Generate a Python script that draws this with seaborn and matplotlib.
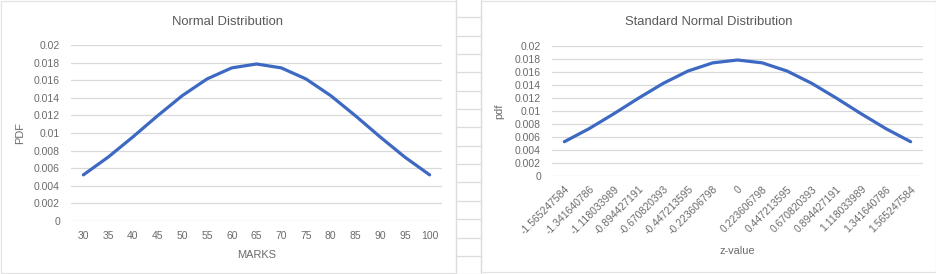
import numpy as np
import pandas as pd
import matplotlib
matplotlib.use("Agg")
import matplotlib.pyplot as plt
import seaborn as sns
from matplotlib.lines import Line2D
from matplotlib.patches import Rectangle

# ---- data ----
marks = [30, 35, 40, 45, 50, 55, 60, 65, 70, 75, 80, 85, 90, 95, 100]
pdf_marks = [0.005241, 0.007254, 0.009550, 0.011959, 0.014246, 0.016143, 0.017401,
             0.017841, 0.017401, 0.016143, 0.014246, 0.011959, 0.009550, 0.007254, 0.005241]
z_labels = ["-1.565247584", "-1.341640786", "-1.118033989", "-0.894427191",
            "-0.670820393", "-0.447213595", "-0.223606798", "0", "0.223606798",
            "0.447213595", "0.670820393", "0.894427191", "1.118033989",
            "1.341640786", "1.565247584"]
pdf_z = [0.005241, 0.007254, 0.009550, 0.011959, 0.014246, 0.016143, 0.017401,
         0.017841, 0.017401, 0.016143, 0.014246, 0.011959, 0.009550, 0.007254, 0.005241]
y_ticks = [0, 0.002, 0.004, 0.006, 0.008, 0.01, 0.012, 0.014, 0.016, 0.018, 0.02]
y_tick_labels = ["0", "0.002", "0.004", "0.006", "0.008", "0.01", "0.012",
                 "0.014", "0.016", "0.018", "0.02"]
titles = ["Normal Distribution", "Standard Normal Distribution"]
xlabels = ["MARKS", "z-value"]
ylabels = ["PDF", "pdf"]

sns.set_theme(style="white")
plt.rcParams["font.family"] = ["Liberation Sans", "DejaVu Sans"]

W, H = 936, 274
fig = plt.figure(figsize=(W / 100, H / 100), dpi=100)
fig.patch.set_facecolor("white")

def fx(x):
    return x / W

def fy(y):
    return 1 - y / H

GRID = "#d9d9d9"
TXT = "#6b6b6b"
TITLE = "#595959"
BLUE = "#3d69c3"

# spreadsheet cell lines between charts
for xx in (456, 481):
    fig.add_artist(Line2D([fx(xx), fx(xx)], [0, 1], color="#dcdcdc", lw=0.9))
for k in range(15):
    yy = 17.3 + 18.35 * k
    fig.add_artist(Line2D([fx(456), fx(481)], [fy(yy), fy(yy)], color="#dcdcdc", lw=0.9))
# chart borders
fig.add_artist(Rectangle((fx(0.5), fy(273)), fx(455.5), (272) / H, fill=False,
                         edgecolor="#e3e3e3", lw=0.9))
fig.add_artist(Rectangle((fx(481), fy(272)), fx(455), (271) / H, fill=False,
                         edgecolor="#e3e3e3", lw=0.9))

panels = [
    dict(box=(71, 45, 442, 221), labels=[str(m) for m in marks], vals=pdf_marks,
         rot=0, title_x=228, xlabel_xy=(256.5, 255), ylabel_xy=(20, 133)),
    dict(box=(552, 46, 923, 175.7), labels=z_labels, vals=pdf_z,
         rot=45, title_x=708.5, xlabel_xy=(737, 251), ylabel_xy=(499, 111)),
]

for i, p in enumerate(panels):
    x0, y0, x1, y1 = p["box"]
    ax = fig.add_axes([fx(x0), fy(y1), fx(x1 - x0), (y1 - y0) / H])
    df = pd.DataFrame({"pos": np.arange(len(p["vals"])), "pdf": p["vals"]})
    sns.lineplot(data=df, x="pos", y="pdf", ax=ax, color=BLUE, lw=2.3)
    ax.set_xlim(-0.5, len(p["vals"]) - 0.5)
    ax.set_ylim(0, 0.02)
    ax.set_yticks(y_ticks)
    ax.set_yticklabels(y_tick_labels)
    ax.set_xticks(np.arange(len(p["labels"])))
    if p["rot"]:
        ax.set_xticklabels(p["labels"], rotation=45, ha="right", rotation_mode="anchor")
        ax.tick_params(axis="x", pad=6)
    else:
        ax.set_xticklabels(p["labels"])
        ax.tick_params(axis="x", pad=7.5)
    ax.tick_params(axis="both", length=0, labelsize=7.5, colors=TXT)
    ax.tick_params(axis="y", pad=8)
    ax.grid(axis="y", color=GRID, lw=0.9)
    ax.grid(axis="x", visible=False)
    for s in ax.spines.values():
        s.set_visible(False)
    ax.set_xlabel("")
    ax.set_ylabel("")
    ax.set_facecolor("none")
    fig.text(fx(p["title_x"]), fy(22), titles[i], ha="center", va="center",
             fontsize=9.4, color=TITLE)
    fig.text(fx(p["xlabel_xy"][0]), fy(p["xlabel_xy"][1]), xlabels[i], ha="center",
             va="center", fontsize=7.9, color=TXT)
    fig.text(fx(p["ylabel_xy"][0]), fy(p["ylabel_xy"][1]), ylabels[i], ha="center",
             va="center", rotation=90, fontsize=7.9, color=TXT)

fig.savefig("out.png", dpi=100)
